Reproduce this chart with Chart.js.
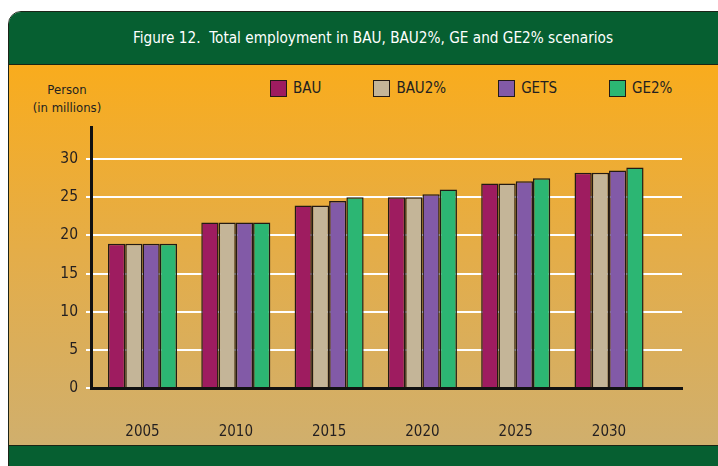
<!DOCTYPE html>
<html>
<head>
<meta charset="utf-8">
<script src="https://cdn.jsdelivr.net/npm/chart.js@4/dist/chart.umd.min.js"></script>
<style>
  html, body { margin: 0; padding: 0; width: 718px; height: 466px; overflow: hidden; background: #fff; }
  body { position: relative; font-family: "Liberation Sans Narrow", "DejaVu Sans Condensed", "Roboto Condensed", sans-serif; color: #231f20; }
  .frame { position: absolute; left: 8px; top: 11px; width: 728px; height: 470px; border: 1.5px solid #1c2418; border-radius: 13px 13px 0 0; overflow: hidden; }
  .head { height: 52px; background: #065f31; border-bottom: 1.5px solid #1a2414; color: #fff; font-size: 15.2px; display: flex; align-items: center; justify-content: center; white-space: pre; }
  .plot { height: 380px; background: linear-gradient(#f9ac1d, #e4ad49 50%, #d0af6d); }
  .foot { height: 40px; background: #065f31; border-top: 1.5px solid #1a2414; }
  #wrap { position: absolute; left: 0; top: 64px; width: 718px; height: 382px; }
  .unit { position: absolute; left: 20px; top: 81px; width: 94px; text-align: center; font-size: 13px; line-height: 18px; }
  #legend { position: absolute; left: 270px; top: 80px; display: flex; gap: 52px; font-size: 15px; line-height: 17px; }
  #legend .item { display: flex; align-items: center; }
  #legend .box { width: 15px; height: 15px; border: 1.5px solid #231a14; margin-right: 6px; }
</style>
</head>
<body>
<div class="frame">
  <div class="head">Figure 12.  Total employment in BAU, BAU2%, GE and GE2% scenarios</div>
  <div class="plot"></div>
  <div class="foot"></div>
</div>
<div class="unit">Person<br>(in millions)</div>
<div id="legend"></div>
<div id="wrap"><canvas id="employmentChart" width="718" height="382"></canvas></div>

<script>
// values (millions of persons)
const years = [2005, 2010, 2015, 2020, 2025, 2030];
const bau   = [18.9, 21.7, 23.9, 25.0, 26.8, 28.2];
const bau2  = [18.9, 21.7, 23.9, 25.0, 26.8, 28.2];
const gets  = [18.9, 21.7, 24.5, 25.4, 27.1, 28.5];
const ge2   = [18.9, 21.7, 25.0, 26.0, 27.5, 28.9];
const seriesNames = ['BAU', 'BAU2%', 'GETS', 'GE2%'];
const seriesColors = ['#9e1c60', '#c4b598', '#825aa7', '#2cb673'];

const font = '"Liberation Sans Narrow", "DejaVu Sans Condensed", "Roboto Condensed", sans-serif';

const ctx = document.getElementById('employmentChart').getContext('2d');
const employmentChart = new Chart(ctx, {
    type: 'bar',
    data: {
        labels: years,
        datasets: [bau, bau2, gets, ge2].map((values, i) => ({
            label: seriesNames[i],
            data: values,
            backgroundColor: seriesColors[i],
            borderColor: '#231a14',
            borderWidth: 1.5,
            categoryPercentage: 0.74,
            barPercentage: 1.0
        }))
    },
    options: {
        responsive: false,
        animation: false,
        layout: { padding: { left: 61, right: 36, top: 63, bottom: 4 } },
        plugins: {
            legend: { display: false },
            tooltip: { enabled: false }
        },
        scales: {
            x: {
                type: 'linear',
                offset: false,
                min: 2002.24,
                max: 2033.91,
                grid: { display: false, drawTicks: false },
                border: { display: true, color: '#111', width: 3, z: 1 },
                afterFit: s => { s.height = 54; },
                ticks: {
                    stepSize: 5,
                    includeBounds: false,
                    padding: 35,
                    color: '#231f20',
                    font: { family: font, size: 15 },
                    callback: v => String(v)
                }
            },
            y: {
                min: 0,
                max: 34.2,
                grid: { color: '#ffffff', lineWidth: 2, tickLength: 5 },
                border: { display: true, color: '#111', width: 3, z: 1 },
                afterFit: s => { s.width = 30; },
                ticks: {
                    stepSize: 5,
                    includeBounds: false,
                    padding: 8,
                    color: '#231f20',
                    font: { family: font, size: 15.5 }
                }
            }
        }
    }
});

// legend
const legend = document.getElementById('legend');
employmentChart.data.datasets.forEach(ds => {
    const item = document.createElement('div');
    item.className = 'item';
    item.innerHTML = '<span class="box" style="background:' + ds.backgroundColor + '"></span><span>' + ds.label + '</span>';
    legend.appendChild(item);
});
</script>
</body>
</html>
